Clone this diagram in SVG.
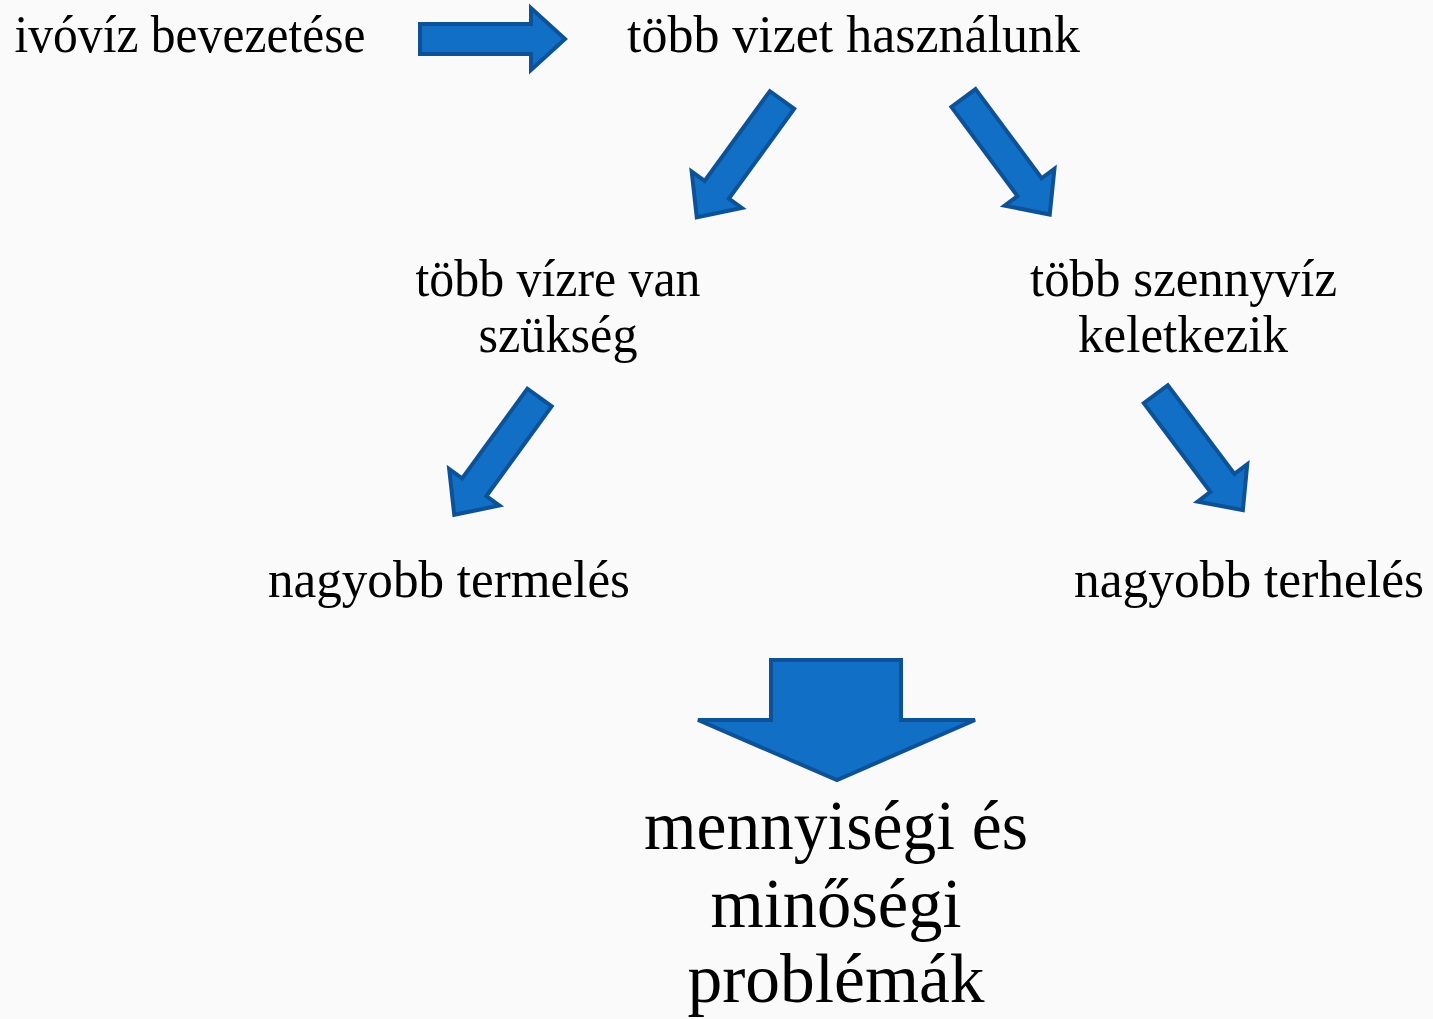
<svg xmlns="http://www.w3.org/2000/svg" xmlns:xlink="http://www.w3.org/1999/xlink" width="1433" height="1019" viewBox="0 0 1433 1019">
<style>
.t{font-family:"Liberation Serif","Times New Roman",serif;font-size:52px;fill:#000;text-anchor:middle}
.big{font-size:69px}
.arr{fill:#1170c6;stroke:#0d5197;stroke-width:4;stroke-linejoin:miter}
</style>
<defs>
<path id="a" d="M0,-15 H111 V-31 L145,0 L111,31 V15 H0 Z"/>
</defs>
<rect width="1433" height="1019" fill="#fafafa"/>
<g id="connectors">
<use xlink:href="#a" class="arr" transform="translate(420,39)"/>
<use xlink:href="#a" class="arr" transform="translate(782,100) rotate(126)"/>
<use xlink:href="#a" class="arr" transform="translate(963.5,98) rotate(53.5)"/>
<use xlink:href="#a" class="arr" transform="translate(539.5,397.5) rotate(126)"/>
<use xlink:href="#a" class="arr" transform="translate(1155.8,394.2) rotate(53.1)"/>
<path class="arr" d="M771,660 H901 V720 H975 L837,780 L698,720 H771 Z"/>
</g>
<g id="n1"><text class="t" x="190" y="52" textLength="351" lengthAdjust="spacingAndGlyphs">ivóvíz bevezetése</text></g>
<g id="n2"><text class="t" x="853.5" y="52" textLength="453" lengthAdjust="spacingAndGlyphs">több vizet használunk</text></g>
<g id="n3"><text class="t" x="558" y="296" textLength="285" lengthAdjust="spacingAndGlyphs">több vízre van</text><text class="t" x="558" y="352" textLength="159" lengthAdjust="spacingAndGlyphs">szükség</text></g>
<g id="n4"><text class="t" x="1183.5" y="296" textLength="307" lengthAdjust="spacingAndGlyphs">több szennyvíz</text><text class="t" x="1183" y="352" textLength="210" lengthAdjust="spacingAndGlyphs">keletkezik</text></g>
<g id="n5"><text class="t" x="449" y="597" textLength="362" lengthAdjust="spacingAndGlyphs">nagyobb termelés</text></g>
<g id="n6"><text class="t" x="1249" y="597" textLength="350" lengthAdjust="spacingAndGlyphs">nagyobb terhelés</text></g>
<g id="n7"><text class="t big" x="836" y="849" textLength="384" lengthAdjust="spacingAndGlyphs">mennyiségi és</text><text class="t big" x="836" y="927" textLength="251" lengthAdjust="spacingAndGlyphs">minőségi</text><text class="t big" x="836" y="1002" textLength="297" lengthAdjust="spacingAndGlyphs">problémák</text></g>
</svg>
